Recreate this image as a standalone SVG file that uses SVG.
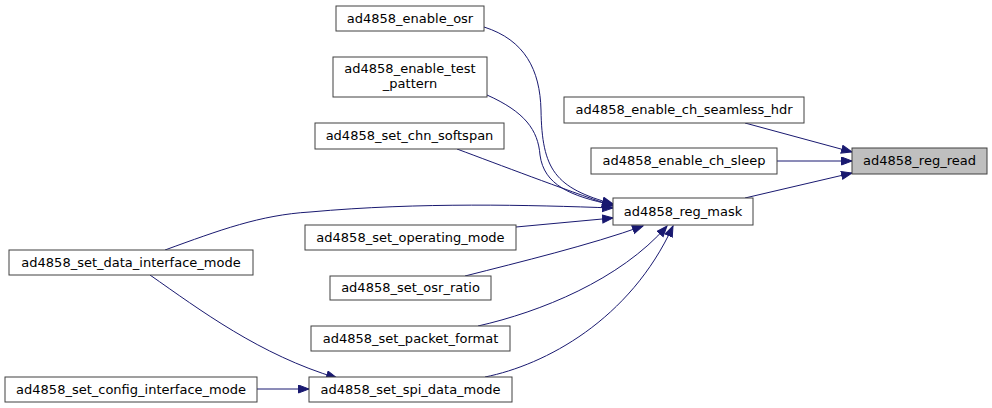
<svg xmlns="http://www.w3.org/2000/svg" width="992" height="408" viewBox="0 0 992 408">
<style>
.n rect{fill:#fff;stroke:#404040;stroke-width:1}
.n text{font-family:"DejaVu Sans",sans-serif;font-size:13px;fill:#000;text-anchor:middle}
.e path{fill:none;stroke:#191970;stroke-width:1;marker-end:url(#ah)}
</style>
<defs>
<marker id="ah" markerUnits="userSpaceOnUse" markerWidth="13" markerHeight="10" refX="11" refY="4.5" orient="auto">
<path d="M0.5,0.5 L11,4.5 L0.5,8.5 z" fill="#191970" stroke="#191970" stroke-width="1"/>
</marker>
</defs>
<rect width="992" height="408" fill="#fff"/>
<g id="edges" class="e">
<path d="M484,27 C525,40 540,70 541,110 C542,170 555,188 613,204"/>
<path d="M487,95 C525,112 538,130 540,155 C544,185 570,196 613,205"/>
<path d="M457,149 C500,165 560,188 613,206"/>
<path d="M165,250 C220,230 260,215 310,212 C420,202 530,205 613,208"/>
<path d="M516,227 L613,218"/>
<path d="M465,276 C520,262 590,245 643,226"/>
<path d="M478,326 C540,312 620,280 667,226"/>
<path d="M485,377 C545,365 630,320 673,226"/>
<path d="M150,275 C200,310 260,355 337,378"/>
<path d="M257,389 L309,389"/>
<path d="M745,123 L852,152"/>
<path d="M777,161 L852,161"/>
<path d="M745,198 L852,173"/>
</g>
<g id="n_enable_osr" class="n"><rect x="336" y="6" width="148" height="25"/><text x="410" y="23">ad4858_enable_osr</text></g>
<g id="n_enable_test_pattern" class="n"><rect x="333" y="57" width="154" height="40"/><text x="410" y="73">ad4858_enable_test</text><text x="410" y="88">_pattern</text></g>
<g id="n_set_chn_softspan" class="n"><rect x="315" y="123" width="189" height="26"/><text x="409.5" y="140">ad4858_set_chn_softspan</text></g>
<g id="n_enable_ch_seamless_hdr" class="n"><rect x="564" y="97" width="240" height="26"/><text x="684" y="114">ad4858_enable_ch_seamless_hdr</text></g>
<g id="n_enable_ch_sleep" class="n"><rect x="591" y="148" width="186" height="26"/><text x="684" y="165">ad4858_enable_ch_sleep</text></g>
<g id="n_reg_read" class="n"><rect x="852" y="148" width="135" height="26" style="fill:#bfbfbf"/><text x="919.5" y="165">ad4858_reg_read</text></g>
<g id="n_reg_mask" class="n"><rect x="613" y="198" width="140" height="27"/><text x="683" y="216">ad4858_reg_mask</text></g>
<g id="n_set_data_interface_mode" class="n"><rect x="9" y="250" width="244" height="25"/><text x="131" y="267">ad4858_set_data_interface_mode</text></g>
<g id="n_set_config_interface_mode" class="n"><rect x="5" y="377" width="252" height="25"/><text x="131" y="394">ad4858_set_config_interface_mode</text></g>
<g id="n_set_operating_mode" class="n"><rect x="305" y="225" width="211" height="25"/><text x="410.5" y="242">ad4858_set_operating_mode</text></g>
<g id="n_set_osr_ratio" class="n"><rect x="330" y="276" width="161" height="24"/><text x="410.5" y="292">ad4858_set_osr_ratio</text></g>
<g id="n_set_packet_format" class="n"><rect x="311" y="326" width="199" height="25"/><text x="410.5" y="343">ad4858_set_packet_format</text></g>
<g id="n_set_spi_data_mode" class="n"><rect x="309" y="377" width="203" height="25"/><text x="410.5" y="394">ad4858_set_spi_data_mode</text></g>
</svg>
